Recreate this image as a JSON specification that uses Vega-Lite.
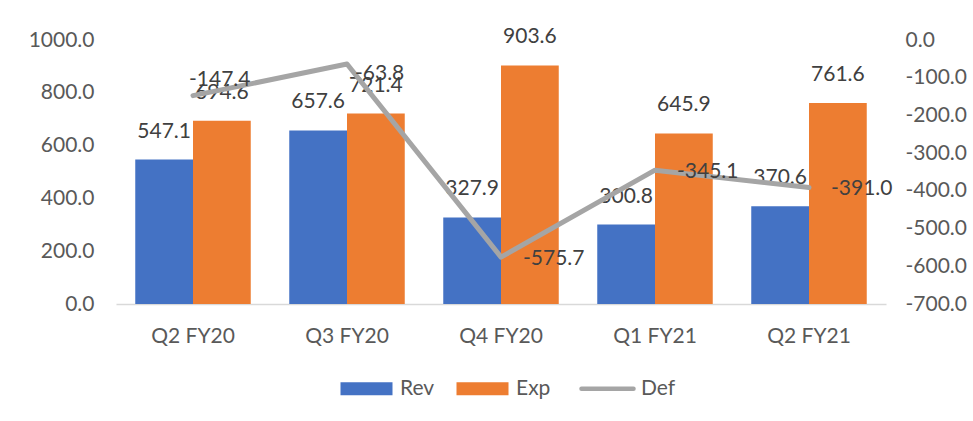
{
  "$schema": "https://vega.github.io/schema/vega-lite/v6.json",
  "width": 770,
  "height": 264,
  "autosize": {"type": "none"},
  "padding": {"left": 116, "top": 40, "right": 87, "bottom": 117},
  "background": "white",
  "config": {
    "view": {"stroke": null},
    "font": "Lato",
    "locale": {"number": {"decimal": ".", "thousands": ",", "grouping": [3], "currency": ["$", ""], "minus": "-"}},
    "axis": {"labelFont": "Lato", "labelFontSize": 21, "labelColor": "#595959", "grid": false, "ticks": false, "domain": false, "title": null}
  },
  "data": {
    "values": [
      {"q": "Q2 FY20", "Rev": 547.1, "Exp": 694.6, "Def": -147.4},
      {"q": "Q3 FY20", "Rev": 657.6, "Exp": 721.4, "Def": -63.8},
      {"q": "Q4 FY20", "Rev": 327.9, "Exp": 903.6, "Def": -575.7},
      {"q": "Q1 FY21", "Rev": 300.8, "Exp": 645.9, "Def": -345.1},
      {"q": "Q2 FY21", "Rev": 370.6, "Exp": 761.6, "Def": -391.0}
    ]
  },
  "layer": [
    {
      "transform": [{"fold": ["Rev", "Exp"], "as": ["series", "value"]}],
      "encoding": {
        "x": {"field": "q", "type": "nominal", "sort": null, "scale": {"paddingInner": 0.25, "paddingOuter": 0.125},
          "axis": {"domain": true, "domainColor": "#D9D9D9", "domainWidth": 1.5, "labelPadding": 21, "labelAngle": 0}},
        "xOffset": {"field": "series", "type": "nominal", "sort": ["Rev", "Exp"]},
        "y": {"field": "value", "type": "quantitative", "scale": {"domain": [0, 1000]},
          "axis": {"values": [0, 200, 400, 600, 800, 1000], "format": ".1f", "labelPadding": 22}}
      },
      "layer": [
        {
          "mark": {"type": "bar"},
          "encoding": {
            "color": {"field": "series", "type": "nominal",
              "scale": {"domain": ["Rev", "Exp", "Def"], "range": ["#4472C4", "#ED7D31", "#A5A5A5"]},
              "legend": {"title": null, "orient": "none", "legendX": 240, "legendY": 338, "direction": "horizontal", "labelFontSize": 21, "labelColor": "#595959", "labelFont": "Lato",
                "symbolType": "M-1,-0.25L1,-0.25L1,0.25L-1,0.25Z", "symbolSize": 2704, "symbolStrokeWidth": 0,
                "labelOffset": 23, "columnPadding": 21,
                "encode": {"symbols": {"update": {
                  "shape": {"signal": "datum.value === 'Def' ? 'stroke' : 'M-1,-0.25L1,-0.25L1,0.25L-1,0.25Z'"},
                  "strokeWidth": {"signal": "datum.value === 'Def' ? 4.5 : 0"},
                  "strokeCap": {"value": "round"},
                  "stroke": {"value": "#A5A5A5"},
                  "fill": {"signal": "datum.value === 'Def' ? 'transparent' : (datum.value === 'Rev' ? '#4472C4' : '#ED7D31')"}
                }}}}
            }
          }
        },
        {
          "mark": {"type": "text", "dy": -28, "baseline": "middle", "fontSize": 21, "font": "Lato", "color": "#404040"},
          "encoding": {
            "text": {"field": "value", "type": "quantitative", "format": ".1f"}
          }
        }
      ]
    },
    {
      "encoding": {
        "x": {"field": "q", "type": "nominal", "sort": null},
        "y": {"field": "Def", "type": "quantitative", "scale": {"domain": [-700, 0]},
          "axis": {"orient": "right", "values": [0, -100, -200, -300, -400, -500, -600, -700], "format": ".1f", "labelPadding": 19}}
      },
      "layer": [
        {
          "mark": {"type": "line", "strokeWidth": 5, "strokeCap": "round", "strokeJoin": "round"},
          "encoding": {
            "color": {"datum": "Def", "type": "nominal"}
          }
        },
        {
          "transform": [{"filter": "datum.q === 'Q2 FY20'"}],
          "mark": {"type": "text", "align": "left", "baseline": "middle", "dx": -4, "dy": -16, "fontSize": 21, "font": "Lato", "color": "#404040"},
          "encoding": {"text": {"field": "Def", "type": "quantitative", "format": ".1f"}}
        },
        {
          "transform": [{"filter": "datum.q === 'Q3 FY20'"}],
          "mark": {"type": "text", "align": "left", "baseline": "middle", "dx": 8, "dy": 10, "fontSize": 21, "font": "Lato", "color": "#404040"},
          "encoding": {"text": {"field": "Def", "type": "quantitative", "format": ".1f"}}
        },
        {
          "transform": [{"filter": "datum.q !== 'Q2 FY20' && datum.q !== 'Q3 FY20'"}],
          "mark": {"type": "text", "align": "left", "baseline": "middle", "dx": 22, "dy": 2, "fontSize": 21, "font": "Lato", "color": "#404040"},
          "encoding": {"text": {"field": "Def", "type": "quantitative", "format": ".1f"}}
        }
      ]
    }
  ],
  "resolve": {"scale": {"y": "independent"}}
}
